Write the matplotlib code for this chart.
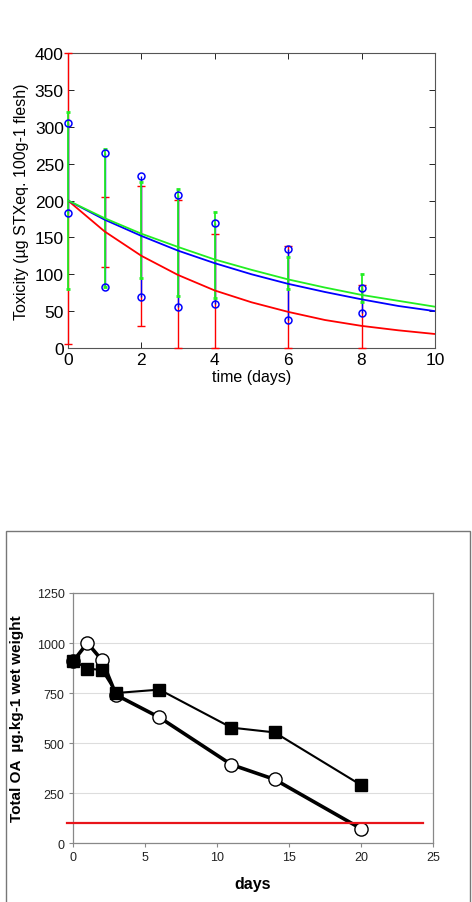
import numpy as np
import matplotlib.pyplot as plt
from matplotlib.patches import Rectangle

plt.rcParams['font.family'] = ['Liberation Sans', 'DejaVu Sans']

# ---- top chart: toxicity decay ----
days = [0, 1, 2, 3, 4, 6, 8]
obs_high = [305, 265, 233, 208, 169, 134, 82]
obs_low = [183, 83, 69, 55, 60, 38, 48]

red_lo = [5, 110, 30, 0, 0, 0, 0]
red_hi = [400, 205, 219, 201, 155, 138, 85]
green_lo = [80, 83, 95, 70, 68, 80, 63]
green_hi = [320, 270, 225, 215, 185, 124, 100]

fit_days = [0, 1, 2, 3, 4, 5, 6, 7, 8, 9, 10]
fit_red = [200, 158, 125, 99, 78, 62, 49, 38, 30, 24, 19]
fit_blue = [200, 174, 152, 132, 115, 100, 87, 76, 66, 57, 50]
fit_green = [200, 176, 155, 137, 120, 106, 93, 82, 72, 64, 56]

# ---- bottom chart: OA depuration ----
oa_days = [0, 1, 2, 3, 6, 11, 14, 20]
oa_square = [912, 872, 865, 750, 767, 577, 553, 290]
oa_circle = [908, 1000, 915, 740, 628, 392, 318, 72]
limit = 100
limit_span = [-0.45, 24.3]

fig = plt.figure(figsize=(4.72, 9.03), dpi=100)

ax1 = fig.add_axes([0.144, 0.6135, 0.7775, 0.3267])
d = np.array(days)
rl, rh = np.array(red_lo), np.array(red_hi)
gl, gh = np.array(green_lo), np.array(green_hi)
eb = ax1.errorbar(d, (rl + rh) / 2, yerr=(rh - rl) / 2, fmt='none', ecolor='red',
                  elinewidth=1.0, capsize=3, capthick=1.0, zorder=3)
for art in eb.lines[1] + eb.lines[2]:
    art.set_clip_on(False)
ax1.vlines(d, obs_low, obs_high, color='blue', lw=1.0, zorder=3.1, clip_on=False)
eb = ax1.errorbar(d, (gl + gh) / 2, yerr=(gh - gl) / 2, fmt='none',
                  ecolor='#22ee22', elinewidth=1.3, capsize=1.5, capthick=2,
                  zorder=3.2)
for art in eb.lines[1] + eb.lines[2]:
    art.set_clip_on(False)
ax1.plot(fit_days, fit_red, color='red', lw=1.3, zorder=3.3)
ax1.plot(fit_days, fit_blue, color='blue', lw=1.3, zorder=3.3)
ax1.plot(fit_days, fit_green, color='#22ee22', lw=1.3, zorder=3.3)
ax1.plot(days, obs_high, 'o', mfc='none', mec='blue', ms=5, mew=1.1,
         zorder=3.4, clip_on=False)
ax1.plot(days, obs_low, 'o', mfc='none', mec='blue', ms=5, mew=1.1,
         zorder=3.4, clip_on=False)
ax1.set_xlim(0, 10)
ax1.set_ylim(0, 400)
ax1.set_xticks(range(0, 11, 2))
ax1.set_yticks(range(0, 401, 50))
ax1.tick_params(direction='in', top=True, right=True, labelsize=12.5, length=4,
                width=0.6, pad=3)
for s in ax1.spines.values():
    s.set_color('#555555')
    s.set_linewidth(0.8)
ax1.set_xlabel('time (days)', fontsize=11.5, labelpad=1)
ax1.set_ylabel('Toxicity (µg STXeq. 100g-1 flesh)', fontsize=11.5, labelpad=4)

# outer frame of the second figure
fig.patches.append(Rectangle((6 / 472, -0.05), 464 / 472, 0.4109 + 0.05,
                             transform=fig.transFigure, fill=False,
                             edgecolor='#777777', lw=1.0))

ax2 = fig.add_axes([0.1547, 0.0653, 0.7627, 0.2769])
ax2.set_xlim(0, 25)
ax2.set_ylim(0, 1250)
ax2.set_xticks(range(0, 26, 5))
ax2.set_yticks(range(0, 1251, 250))
ax2.yaxis.grid(True, color='#dddddd', lw=0.8)
ax2.set_axisbelow(True)
ax2.plot(oa_days, oa_circle, '-o', color='black', lw=2.6, ms=9.5,
         mfc='white', mec='black', mew=1.0, zorder=3, clip_on=False)
ax2.plot(oa_days, oa_square, '-s', color='black', lw=1.5, ms=8.5,
         mfc='black', mec='black', zorder=4, clip_on=False)
ax2.plot(limit_span, [limit, limit], color='#e8141a', lw=1.6, clip_on=False,
         zorder=5)
for s in ax2.spines.values():
    s.set_color('#888888')
    s.set_linewidth(0.9)
ax2.tick_params(direction='out', labelsize=9, length=3, width=0.8,
                color='#888888', labelcolor='#222222', pad=3)
ax2.set_xlabel('days', fontsize=11.5, fontweight='bold', labelpad=9)
ax2.set_ylabel('Total OA  µg.kg-1 wet weight', fontsize=11, fontweight='bold',
               labelpad=9)

fig.savefig('out.png', dpi=100)
